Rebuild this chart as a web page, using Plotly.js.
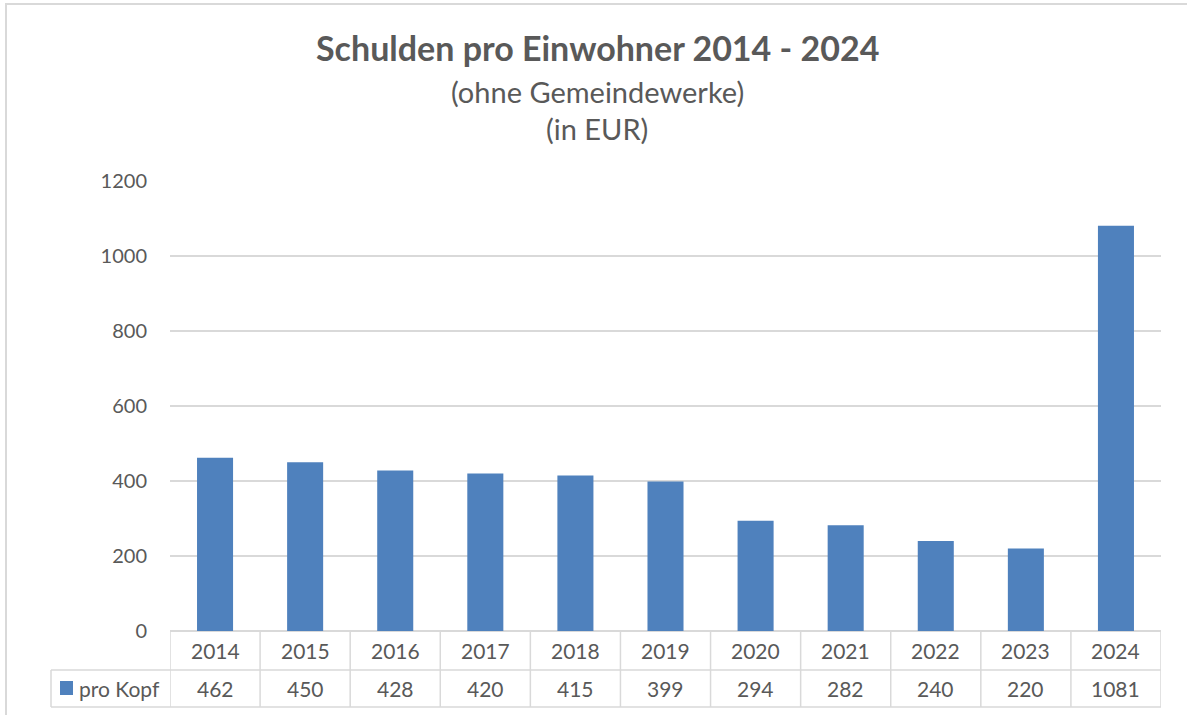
<!DOCTYPE html>
<html><head><meta charset="utf-8">
<script src="https://cdn.plot.ly/plotly-3.0.1.min.js"></script>
<style>body{margin:0;padding:0;background:#fff}#chart{width:1187px;height:715px}</style>
</head><body><div id="chart"></div>
<script>
const years = ['2014','2015','2016','2017','2018','2019','2020','2021','2022','2023','2024'];
const proKopf = [462,450,428,420,415,399,294,282,240,220,1081];
const seriesName = 'pro Kopf';
const yTicks = [0,200,400,600,800,1000,1200];

const W = 1187, H = 715, L = 170, R = 26, T = 181, B = 84;
const pw = W - L - R, ph = H - T - B;
const px2y = y => (H - B - y) / ph;
const px2x = x => (x - L) / pw;
const grid = '#d9d9d9', txt = '#595959', barCol = '#4f81bd';
const font = 'Lato, "Open Sans", sans-serif';

const shapes = [];
const annotations = [];
shapes.push({type:'rect', xref:'paper', yref:'paper', x0:px2x(6), x1:px2x(1200), y0:px2y(730), y1:px2y(4), line:{color:grid,width:2}, layer:'below'});
shapes.push({type:'line', xref:'paper', yref:'paper', x0:px2x(51), x1:1, y0:px2y(670), y1:px2y(670), line:{color:grid,width:1.5}});
shapes.push({type:'line', xref:'paper', yref:'paper', x0:px2x(51), x1:1, y0:px2y(707), y1:px2y(707), line:{color:grid,width:1.5}});
for (let i = 0; i <= years.length; i++) {
  shapes.push({type:'line', xref:'x', yref:'paper', x0:i-0.5, x1:i-0.5, y0:px2y(707), y1:0, line:{color:grid,width:1.5}});
}
shapes.push({type:'line', xref:'paper', yref:'paper', x0:px2x(51), x1:px2x(51), y0:px2y(707), y1:px2y(670), line:{color:grid,width:1.5}});
shapes.push({type:'rect', xref:'paper', yref:'paper', x0:px2x(60), x1:px2x(73), y0:px2y(695), y1:px2y(681), fillcolor:barCol, line:{width:0}});
annotations.push({xref:'paper', yref:'paper', x:px2x(77), y:px2y(688.5), xanchor:'left', yanchor:'middle', text:seriesName, showarrow:false, font:{family:font,size:21,color:txt}});

years.forEach((yr, i) => {
  annotations.push({xref:'x', yref:'paper', x:i, y:px2y(650.5), text:yr, showarrow:false, xanchor:'center', yanchor:'middle', font:{family:font,size:21,color:txt}});
  annotations.push({xref:'x', yref:'paper', x:i, y:px2y(688.5), text:String(proKopf[i]), showarrow:false, xanchor:'center', yanchor:'middle', font:{family:font,size:21,color:txt}});
});

annotations.push({xref:'paper', yref:'paper', x:px2x(597), y:px2y(47), text:'<b>Schulden pro Einwohner 2014 - 2024</b>', showarrow:false, xanchor:'center', yanchor:'middle', font:{family:font,size:34,color:txt}});
annotations.push({xref:'paper', yref:'paper', x:px2x(597), y:px2y(92), text:'(ohne Gemeindewerke)', showarrow:false, xanchor:'center', yanchor:'middle', font:{family:font,size:29,color:txt}});
annotations.push({xref:'paper', yref:'paper', x:px2x(597), y:px2y(129), text:'(in EUR)', showarrow:false, xanchor:'center', yanchor:'middle', font:{family:font,size:29,color:txt}});

const data = [{
  type:'bar', x: years.map((_, i) => i), y: proKopf, name: seriesName,
  marker:{color:barCol}, hoverinfo:'x+y'
}];

const layout = {
  width:W, height:H, margin:{l:L, r:R, t:T, b:B, pad:0},
  paper_bgcolor:'#fff', plot_bgcolor:'#fff',
  showlegend:false, bargap:0.6,
  xaxis:{range:[-0.5, years.length-0.5], showticklabels:false, showgrid:false, zeroline:false, showline:false, ticks:'', fixedrange:true},
  yaxis:{range:[0,1200], tickvals:yTicks, ticktext:yTicks.map(String), showgrid:true, gridcolor:grid, gridwidth:1.5, zeroline:true, zerolinecolor:grid, zerolinewidth:1.5, showline:false, ticks:'', ticklabelstandoff:22, tickfont:{family:font,size:20,color:txt}, fixedrange:true},
  shapes, annotations
};
Plotly.newPlot('chart', data, layout, {displayModeBar:false, staticPlot:true});
</script></body></html>
